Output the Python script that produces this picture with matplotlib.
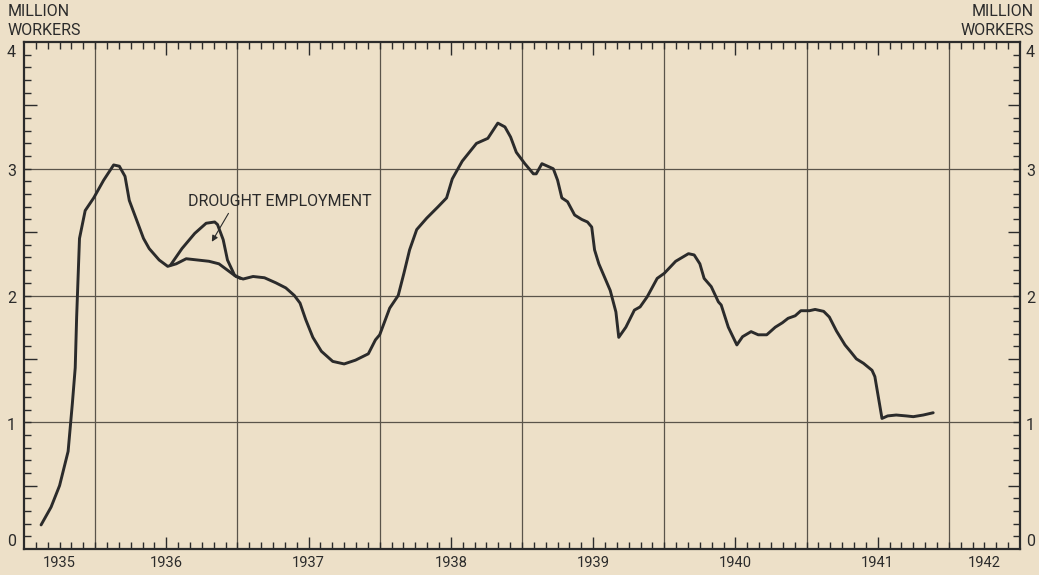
import matplotlib
matplotlib.use('Agg')
import matplotlib.pyplot as plt
import matplotlib.transforms as mtransforms
import numpy as np

plt.rcParams['font.family'] = ['Roboto', 'DejaVu Sans']

# Relief employment (million workers); time in decimal years
t_main = [1935.62, 1935.69, 1935.75, 1935.81, 1935.84, 1935.86, 1935.87, 1935.89, 1935.93, 1935.99,
          1936.06, 1936.13, 1936.17, 1936.21, 1936.24, 1936.29, 1936.34, 1936.38, 1936.45, 1936.51,
          1936.57, 1936.64, 1936.72, 1936.80, 1936.87, 1936.93, 1936.99, 1937.04, 1937.11, 1937.19,
          1937.27, 1937.34, 1937.40, 1937.44, 1937.48, 1937.53, 1937.59, 1937.67, 1937.75, 1937.83,
          1937.92, 1937.97, 1938.00, 1938.07, 1938.13, 1938.17, 1938.21, 1938.26, 1938.33, 1938.41,
          1938.47, 1938.51, 1938.58, 1938.68, 1938.76, 1938.83, 1938.88, 1938.92, 1938.96, 1939.02,
          1939.08, 1939.10, 1939.14, 1939.18, 1939.22, 1939.25, 1939.28, 1939.32, 1939.37, 1939.42,
          1939.46, 1939.49, 1939.51, 1939.54, 1939.62, 1939.66, 1939.68, 1939.73, 1939.79, 1939.83,
          1939.88, 1939.95, 1940.00, 1940.08, 1940.17, 1940.21, 1940.25, 1940.28, 1940.33, 1940.38,
          1940.40, 1940.45, 1940.51, 1940.55, 1940.61, 1940.66, 1940.72, 1940.78, 1940.83, 1940.87,
          1940.92, 1940.96, 1941.02, 1941.06, 1941.12, 1941.16, 1941.21, 1941.27, 1941.31, 1941.35,
          1941.40, 1941.46, 1941.48, 1941.53, 1941.57, 1941.63, 1941.70, 1941.75, 1941.82, 1941.89]
v_main = [0.19, 0.33, 0.50, 0.77, 1.15, 1.43, 1.83, 2.45, 2.67, 2.77,
          2.91, 3.03, 3.02, 2.94, 2.75, 2.60, 2.45, 2.37, 2.28, 2.23,
          2.25, 2.29, 2.28, 2.27, 2.25, 2.20, 2.15, 2.13, 2.15, 2.14,
          2.10, 2.06, 2.00, 1.94, 1.81, 1.67, 1.56, 1.48, 1.46, 1.49,
          1.54, 1.65, 1.69, 1.90, 2.00, 2.175, 2.36, 2.52, 2.61, 2.70,
          2.77, 2.92, 3.06, 3.20, 3.24, 3.36, 3.33, 3.25, 3.13, 3.04,
          2.96, 2.96, 3.04, 3.02, 3.00, 2.91, 2.77, 2.74, 2.635, 2.60,
          2.58, 2.54, 2.36, 2.25, 2.04, 1.87, 1.67, 1.75, 1.885, 1.91,
          1.99, 2.135, 2.175, 2.27, 2.33, 2.32, 2.25, 2.135, 2.07, 1.95,
          1.925, 1.75, 1.61, 1.675, 1.715, 1.69, 1.69, 1.75, 1.785, 1.82,
          1.84, 1.88, 1.88, 1.89, 1.875, 1.83, 1.72, 1.61, 1.556, 1.50,
          1.465, 1.41, 1.36, 1.03, 1.05, 1.057, 1.05, 1.044, 1.057, 1.075]

# Total including drought employment, 1936
t_drought = [1936.53, 1936.61, 1936.70, 1936.78, 1936.84, 1936.86, 1936.90, 1936.93, 1936.98, 1937.02]
v_drought = [2.24, 2.37, 2.49, 2.57, 2.58, 2.56, 2.44, 2.28, 2.16, 2.135]

years = [1935, 1936, 1937, 1938, 1939, 1940, 1941, 1942]
y_labels = ['0', '1', '2', '3', '4']

bg = '#ede0c8'
ink = '#2b2b2b'

fig = plt.figure(figsize=(10.39, 5.75), dpi=100, facecolor=bg)
ax = fig.add_axes([24 / 1039, 26 / 575, 996 / 1039, 507 / 575], facecolor=bg)

x0, x1 = 1935.5, 1942.5
ax.set_xlim(x0, x1)
ax.set_ylim(0, 4)

# grid
for yr in years[1:]:
    ax.axvline(yr, color='#5a544a', lw=0.9, zorder=1)
for v in range(1, 4):
    ax.axhline(v, color='#5a544a', lw=0.9, zorder=1)

ax.plot(t_main, v_main, color=ink, lw=2.1, solid_joinstyle='round', solid_capstyle='round', zorder=3)
ax.plot(t_drought, v_drought, color=ink, lw=2.1, solid_joinstyle='round', solid_capstyle='round', zorder=3)

for s in ax.spines.values():
    s.set_color(ink)
    s.set_linewidth(1.6)

# ticks: monthly on x, tenths on y, longer at mid-year / half-unit
months = np.arange(x0 + 1 / 12, x1 - 1e-6, 1 / 12)
mid = [m for m in months if abs((m % 1) - 0.5) < 1e-3]
ax.set_xticks(mid)
ax.set_xticks(months, minor=True)
ax.set_yticks([0.5, 1.5, 2.5, 3.5])
ax.set_yticks(np.arange(0.1, 4.0, 0.1), minor=True)
ax.tick_params(which='both', direction='in', top=True, right=True, color=ink, width=1.0,
               labelbottom=False, labelleft=False)
ax.tick_params(which='major', length=9)
ax.tick_params(which='minor', length=5)

# year labels centred in each visible year
trans = mtransforms.blended_transform_factory(ax.transData, ax.transAxes)
for yr in years:
    a, b = max(yr, x0), min(yr + 1, x1)
    ax.text((a + b) / 2, -0.028, str(yr), transform=trans, ha='center', va='center',
            fontsize=10.5, color=ink)

# y labels on both sides
ytrans_l = mtransforms.blended_transform_factory(ax.transAxes, ax.transData)
for i, lab in enumerate(y_labels):
    va = 'bottom' if i == 0 else ('top' if i == 4 else 'center')
    yy = i + (0.0 if i == 0 else -0.025)
    ax.text(-0.008, yy, lab, transform=ytrans_l, ha='right', va=va, fontsize=11.5, color=ink)
    ax.text(1.006, yy, lab, transform=ytrans_l, ha='left', va=va, fontsize=11.5, color=ink)

fig.text(8 / 1039, 1 - 21 / 575, 'MILLION\nWORKERS', ha='left', va='center', fontsize=11.5,
         color=ink, linespacing=1.3)
fig.text(1034 / 1039, 1 - 21 / 575, 'MILLION\nWORKERS', ha='right', va='center', fontsize=11.5,
         color=ink, linespacing=1.3, multialignment='right')

ax.text(1936.655, 2.742, 'DROUGHT EMPLOYMENT', ha='left', va='center', fontsize=11.5, color=ink)
ax.annotate('', xy=(1936.82, 2.424), xytext=(1936.937, 2.648),
            arrowprops=dict(arrowstyle='-|>', color=ink, lw=0.8, mutation_scale=9,
                            shrinkA=0, shrinkB=0))

fig.savefig('out.png', dpi=100, facecolor=bg)
